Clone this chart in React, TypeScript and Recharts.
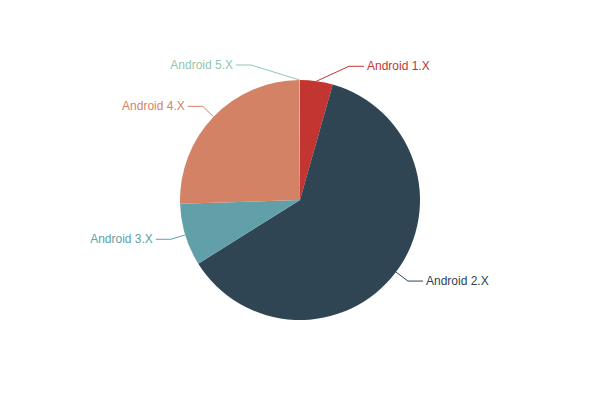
import { PieChart, Pie, Cell } from "recharts";

// Android version share (clockwise from 12 o'clock)
const versions = ["Android 1.X", "Android 2.X", "Android 3.X", "Android 4.X", "Android 5.X"];
const shares = [4.4, 61.7, 8.4, 25.4, 0.1];
const colors = ["#c23531", "#2f4554", "#61a0a8", "#d48265", "#91c7ae"];

const data = versions.map((name, i) => ({ name, value: shares[i] }));

const RADIAN = Math.PI / 180;

// echarts-like label: radial segment, horizontal segment, then text
const renderLabel = (props: any) => {
  const { cx, cy, midAngle, outerRadius, index, name } = props;
  const color = colors[index];
  const cos = Math.cos(-midAngle * RADIAN);
  const sin = Math.sin(-midAngle * RADIAN);
  const side = cos >= 0 ? 1 : -1;
  const sx = cx + outerRadius * cos;
  const sy = cy + outerRadius * sin;
  let mx = cx + (outerRadius + 15) * cos;
  const my = cy + (outerRadius + 15) * sin;
  // labels near the top get pushed sideways so they do not collide
  if (Math.abs(mx - cx) < 49) mx = cx + side * 49;
  const ex = mx + side * 15;
  return (
    <g>
      <path
        d={`M${sx},${sy}L${mx},${my}L${ex},${my}`}
        stroke={color}
        fill="none"
        strokeWidth={1}
      />
      <text
        x={ex + side * 3}
        y={my}
        fill={color}
        textAnchor={side > 0 ? "start" : "end"}
        dominantBaseline="central"
        fontSize={12}
      >
        {name}
      </text>
    </g>
  );
};

export default function App() {
  return (
    <div
      style={{
        position: "absolute",
        left: 0,
        top: 0,
        width: 600,
        height: 400,
        background: "#fff",
        fontFamily: '"Liberation Sans", Arial, sans-serif',
      }}
    >
      <PieChart width={600} height={400} margin={{ top: 0, right: 0, bottom: 0, left: 0 }}>
        <Pie
          data={data}
          dataKey="value"
          nameKey="name"
          cx={300}
          cy={200}
          outerRadius={120}
          startAngle={90}
          endAngle={-270}
          stroke="none"
          label={renderLabel}
          labelLine={false}
          isAnimationActive={false}
        >
          {data.map((d, i) => (
            <Cell key={d.name} fill={colors[i]} />
          ))}
        </Pie>
      </PieChart>
    </div>
  );
}
